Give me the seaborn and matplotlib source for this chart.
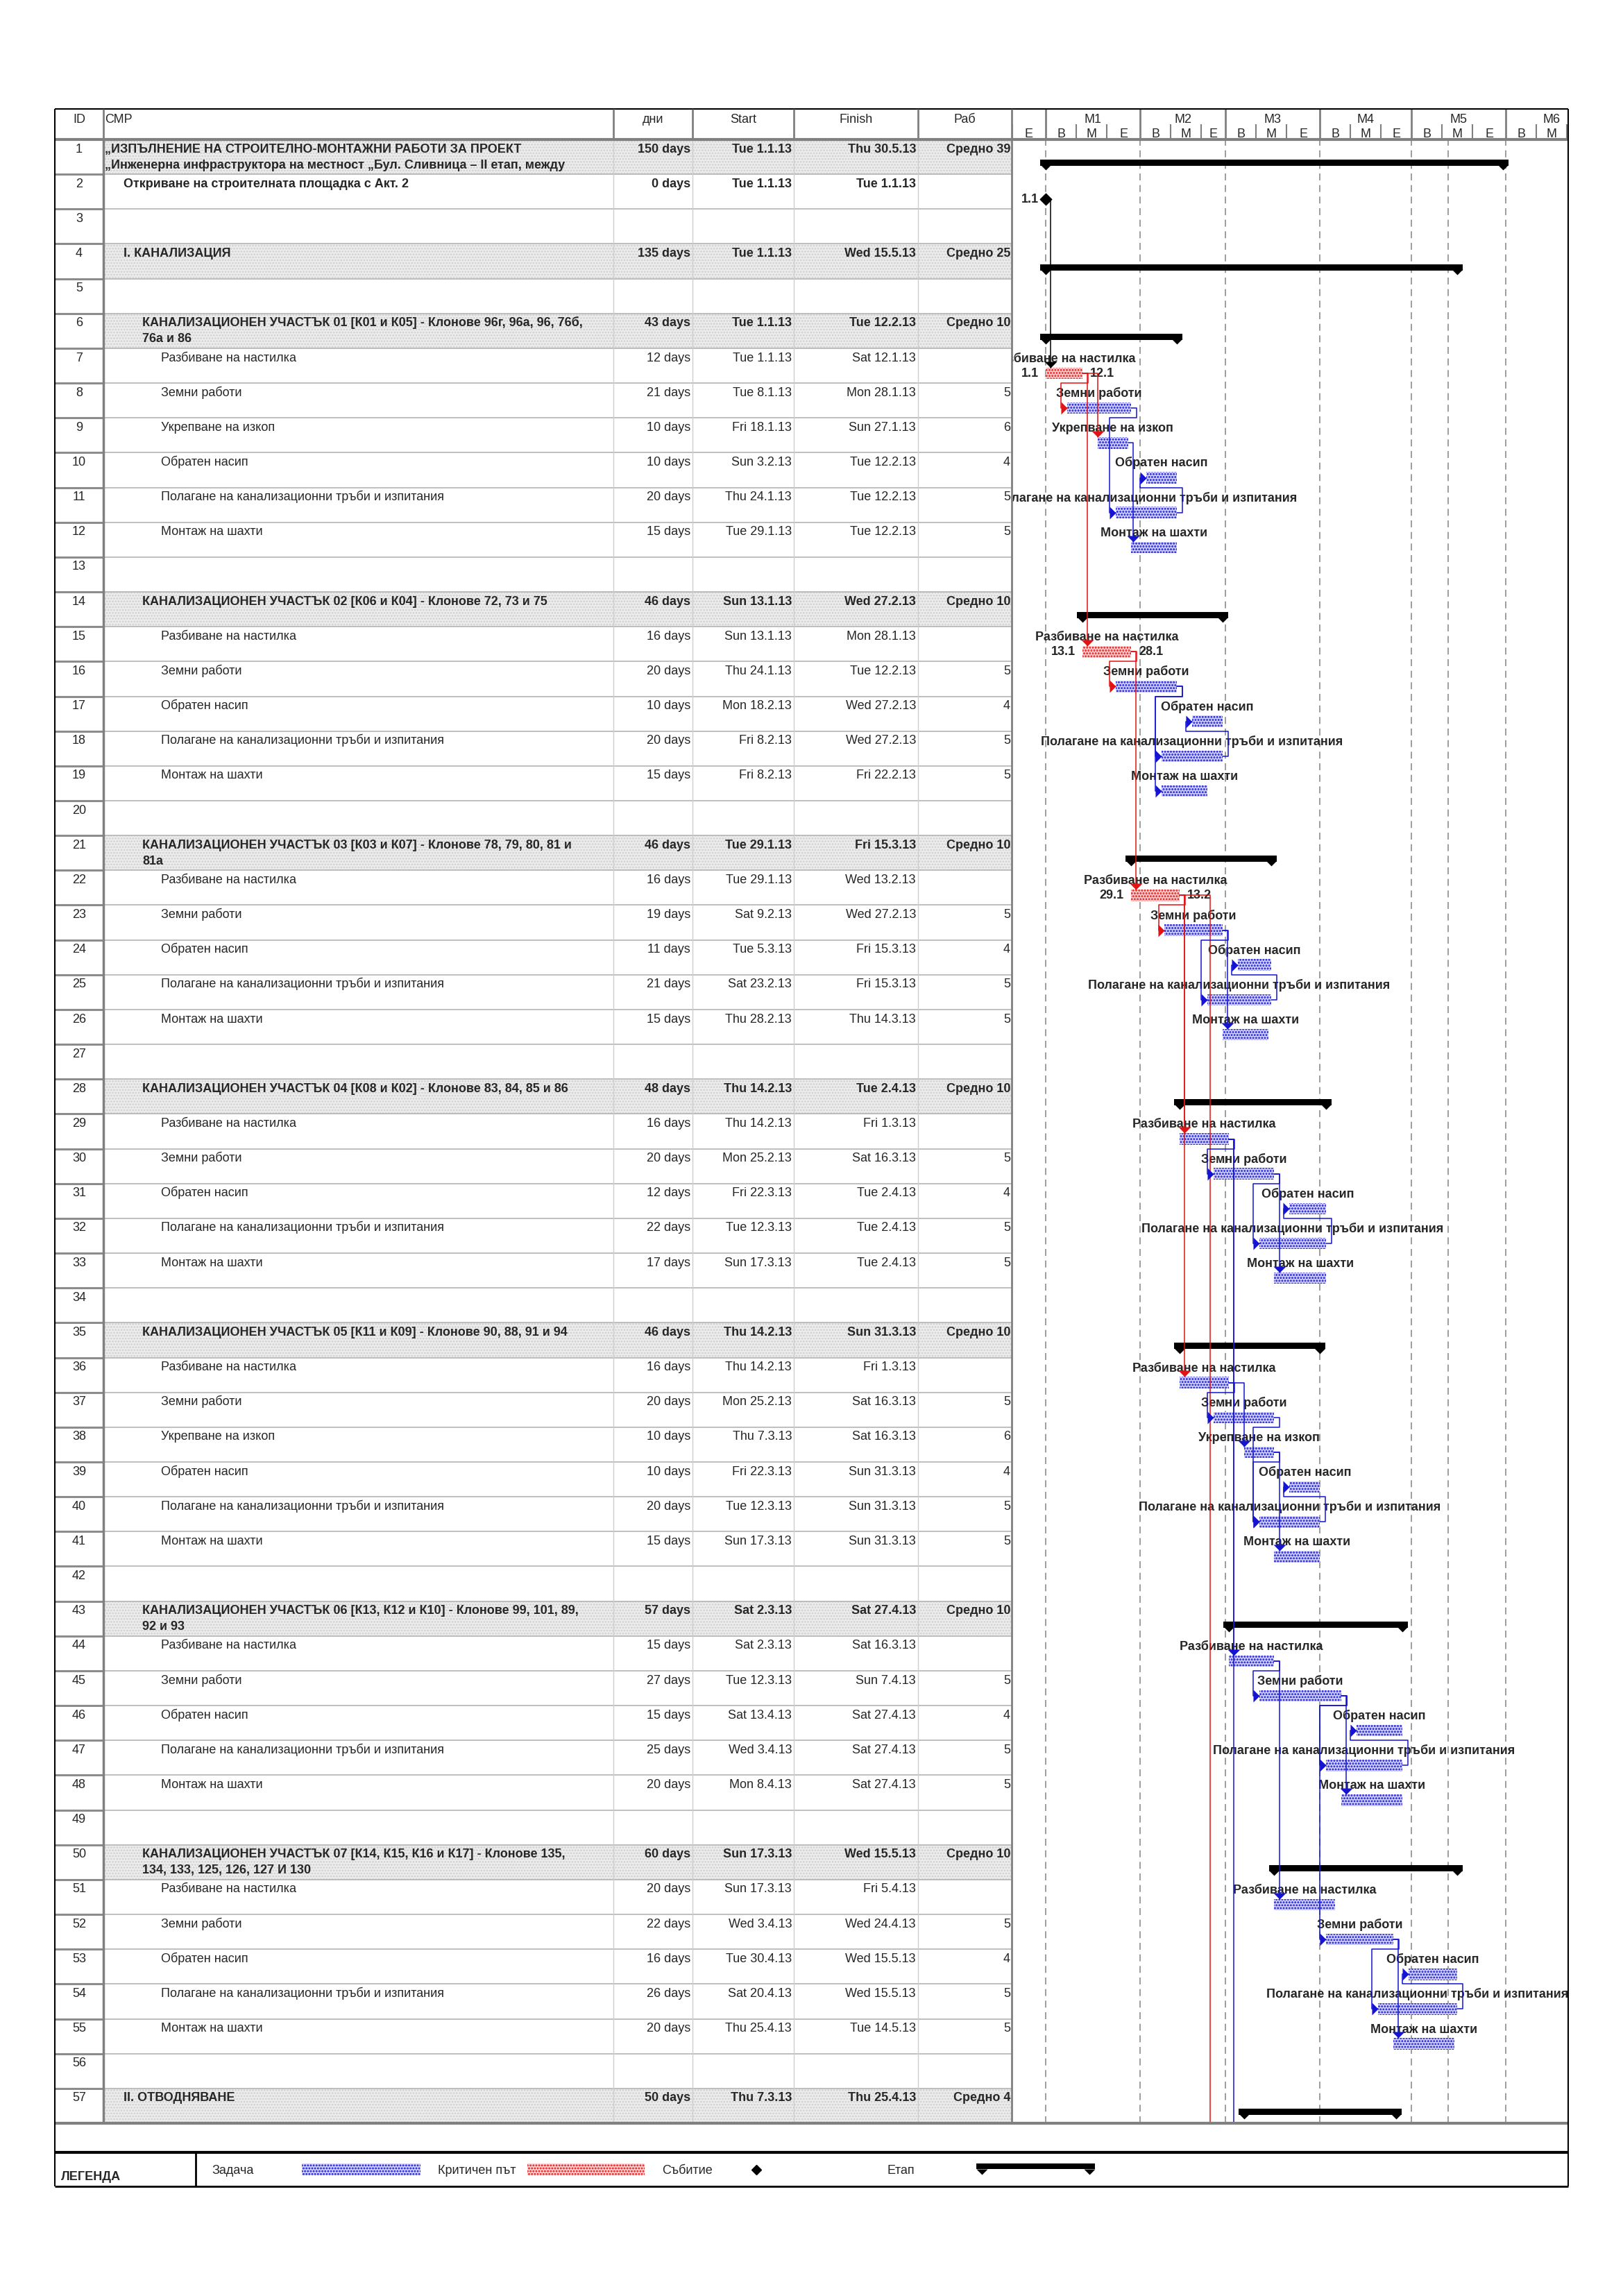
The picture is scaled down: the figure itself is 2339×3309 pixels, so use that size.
import numpy as np
import pandas as pd
import seaborn as sns
import matplotlib.pyplot as plt
import matplotlib.dates as mdates
from matplotlib.patches import Rectangle

# ---- schedule data ----
R = "Разбиване на настилка"
Z = "Земни работи"
U = "Укрепване на изкоп"
O = "Обратен насип"
P = "Полагане на канализационни тръби и изпитания"
M = "Монтаж на шахти"

names = [
    "„ИЗПЪЛНЕНИЕ НА СТРОИТЕЛНО-МОНТАЖНИ РАБОТИ ЗА ПРОЕКТ\n„Инженерна инфраструктора на местност „Бул. Сливница – II етап, между",
    "Откриване на строителната площадка с Акт. 2",
    "",
    "I. КАНАЛИЗАЦИЯ",
    "",
    "КАНАЛИЗАЦИОНЕН УЧАСТЪК 01 [К01 и К05] - Клонове 96г, 96а, 96, 76б,\n76а и 86",
    R, Z, U, O, P, M, "",
    "КАНАЛИЗАЦИОНЕН УЧАСТЪК 02 [К06 и К04] - Клонове 72, 73 и 75",
    R, Z, O, P, M, "",
    "КАНАЛИЗАЦИОНЕН УЧАСТЪК 03 [К03 и К07] - Клонове 78, 79, 80, 81 и\n81а",
    R, Z, O, P, M, "",
    "КАНАЛИЗАЦИОНЕН УЧАСТЪК 04 [К08 и К02] - Клонове 83, 84, 85 и 86",
    R, Z, O, P, M, "",
    "КАНАЛИЗАЦИОНЕН УЧАСТЪК 05 [К11 и К09] - Клонове 90, 88, 91 и 94",
    R, Z, U, O, P, M, "",
    "КАНАЛИЗАЦИОНЕН УЧАСТЪК 06 [К13, К12 и К10] - Клонове 99, 101, 89,\n92 и 93",
    R, Z, O, P, M, "",
    "КАНАЛИЗАЦИОНЕН УЧАСТЪК 07 [К14, К15, К16 и К17] - Клонове 135,\n134, 133, 125, 126, 127 И 130",
    R, Z, O, P, M, "",
    "II. ОТВОДНЯВАНЕ",
]
levels = [0, 1, 0, 1, 0,
          2, 3, 3, 3, 3, 3, 3, 0,
          2, 3, 3, 3, 3, 3, 0,
          2, 3, 3, 3, 3, 3, 0,
          2, 3, 3, 3, 3, 3, 0,
          2, 3, 3, 3, 3, 3, 3, 0,
          2, 3, 3, 3, 3, 3, 0,
          2, 3, 3, 3, 3, 3, 0,
          1]
durations = [150, 0, None, 135, None,
             43, 12, 21, 10, 10, 20, 15, None,
             46, 16, 20, 10, 20, 15, None,
             46, 16, 19, 11, 21, 15, None,
             48, 16, 20, 12, 22, 17, None,
             46, 16, 20, 10, 10, 20, 15, None,
             57, 15, 27, 15, 25, 20, None,
             60, 20, 22, 16, 26, 20, None,
             50]
starts = ["1.1.13", "1.1.13", None, "1.1.13", None,
          "1.1.13", "1.1.13", "8.1.13", "18.1.13", "3.2.13", "24.1.13", "29.1.13", None,
          "13.1.13", "13.1.13", "24.1.13", "18.2.13", "8.2.13", "8.2.13", None,
          "29.1.13", "29.1.13", "9.2.13", "5.3.13", "23.2.13", "28.2.13", None,
          "14.2.13", "14.2.13", "25.2.13", "22.3.13", "12.3.13", "17.3.13", None,
          "14.2.13", "14.2.13", "25.2.13", "7.3.13", "22.3.13", "12.3.13", "17.3.13", None,
          "2.3.13", "2.3.13", "12.3.13", "13.4.13", "3.4.13", "8.4.13", None,
          "17.3.13", "17.3.13", "3.4.13", "30.4.13", "20.4.13", "25.4.13", None,
          "7.3.13"]
finishes = ["30.5.13", "1.1.13", None, "15.5.13", None,
            "12.2.13", "12.1.13", "28.1.13", "27.1.13", "12.2.13", "12.2.13", "12.2.13", None,
            "27.2.13", "28.1.13", "12.2.13", "27.2.13", "27.2.13", "22.2.13", None,
            "15.3.13", "13.2.13", "27.2.13", "15.3.13", "15.3.13", "14.3.13", None,
            "2.4.13", "1.3.13", "16.3.13", "2.4.13", "2.4.13", "2.4.13", None,
            "31.3.13", "1.3.13", "16.3.13", "16.3.13", "31.3.13", "31.3.13", "31.3.13", None,
            "27.4.13", "16.3.13", "7.4.13", "27.4.13", "27.4.13", "27.4.13", None,
            "15.5.13", "5.4.13", "24.4.13", "15.5.13", "15.5.13", "14.5.13", None,
            "25.4.13"]
work = ["Средно 39", "", "", "Средно 25", "",
        "Средно 10", "", "5", "6", "4", "5", "5", "",
        "Средно 10", "", "5", "4", "5", "5", "",
        "Средно 10", "", "5", "4", "5", "5", "",
        "Средно 10", "", "5", "4", "5", "5", "",
        "Средно 10", "", "5", "6", "4", "5", "5", "",
        "Средно 10", "", "5", "4", "5", "5", "",
        "Средно 10", "", "5", "4", "5", "5", "",
        "Средно 4"]
critical_rows = [7, 15, 22]

# links (predecessor row, successor row); rows 58/59 sit below the printed part
links = [(2, 7), (7, 8), (7, 9), (7, 15), (8, 11), (9, 12), (11, 10),
         (15, 16), (15, 22), (16, 18), (16, 19), (18, 17),
         (22, 23), (22, 29), (22, 36), (22, 58), (23, 25), (23, 26), (25, 24),
         (29, 30), (29, 44), (29, 59), (30, 32), (30, 33), (32, 31),
         (36, 37), (36, 38), (37, 40), (38, 40), (38, 41), (40, 39),
         (44, 45), (44, 51), (45, 47), (45, 48), (45, 52), (47, 46),
         (52, 54), (52, 55), (54, 53)]
critical_links = [(7, 8), (7, 9), (7, 15), (15, 16), (15, 22),
                  (22, 23), (22, 29), (22, 36), (22, 58)]
hidden_rows = [58, 59]
hidden_starts = ["24.2.13", "2.3.13"]

month_labels = ["", "M1", "M2", "M3", "M4", "M5", "M6"]
month_starts = ["1.12.12", "1.1.13", "1.2.13", "1.3.13", "1.4.13", "1.5.13", "1.6.13"]
part_labels = ["B", "M", "E"]
status_date = "13.5.13"
view = ("2012-12-20 20:00", "2013-06-21 10:00")

legend_labels = ["Задача", "Критичен път", "Събитие", "Етап"]

# ---- style ----
sns.set_theme(style="white")
plt.rcParams["font.family"] = ["Liberation Sans", "DejaVu Sans"]
plt.rcParams["hatch.linewidth"] = 1.4
FS = 13
BLUE, RED = "#1414d2", "#e01414"
GRID = "#8c8c8c"
LINE_STEP = 0.46   # second text line inside a row

W, H = 2339, 3309
fig = plt.figure(figsize=(W / 100, H / 100), dpi=100)
fig.patch.set_facecolor("white")


def axes_at(x0, y0, x1, y1, z=1):
    ax = fig.add_axes([x0 / W, 1 - y1 / H, (x1 - x0) / W, (y1 - y0) / H], zorder=z)
    ax.set_axis_off()
    return ax


def to_date(s):
    return pd.to_datetime(s, format="%d.%m.%y")


df = pd.DataFrame({"row": range(1, 58), "name": names, "level": levels,
                   "dur": durations, "start": starts, "finish": finishes, "work": work})
df["summary"] = df["work"].str.startswith("Средно")
df["milestone"] = df["dur"] == 0
df["task"] = ~df["summary"] & ~df["milestone"] & df["name"].ne("")
df["s"] = to_date(df["start"])
df["f"] = to_date(df["finish"])
df["e"] = df["f"] + pd.Timedelta(days=1)
df.loc[df["milestone"], "e"] = df.loc[df["milestone"], "s"]
df["sn"] = mdates.date2num(df["s"])
df["en"] = mdates.date2num(df["e"])
df["crit"] = df["row"].isin(critical_rows)
df = df.set_index("row", drop=False)


def fmt_day(t):
    return f"{t:%a} {t.day}.{t.month}.{t:%y}"


# ---- table ----
L, RGT, TOP, HB, TB, LT, LB = 79, 2260, 157, 201, 3060, 3102, 3151
cols = [79, 149, 884, 998, 1144, 1323, 1458]
name_x = [151, 178, 205, 232]

ax_t = axes_at(cols[0], HB, cols[-1], TB)
ax_t.set_xlim(cols[0], cols[-1])
ax_t.set_ylim(57, 0)

summ = df[df["summary"]]
ax_t.barh(summ["row"] - 0.5, cols[-1] - cols[1], left=cols[1], height=1,
          color="#eeeeee", hatch="....", edgecolor="#d0d0d0", lw=0, zorder=0)
bounds = np.arange(1, 57)
ax_t.hlines(bounds, cols[0], cols[1], color="#8c8c8c", lw=2.2, zorder=2)
ax_t.hlines(bounds, cols[1], cols[-1], color="#b4b4b4", lw=1.2, zorder=2)
ax_t.vlines(cols[2:6], 0, 57, color="#cdcdcd", lw=1, zorder=2)
ax_t.vlines(cols[1], 0, 57, color="#808080", lw=2.5, zorder=2)

for r, row in df.iterrows():
    y = r - 1 + 0.37
    ax_t.text(114, y, str(r), ha="center", va="baseline", fontsize=FS)
    if row["name"] == "":
        continue
    wt = "bold" if (row["summary"] or row["milestone"]) else "normal"
    for i, line in enumerate(row["name"].split("\n")):
        ax_t.text(name_x[row["level"]], y + i * LINE_STEP, line, ha="left", va="baseline",
                  fontsize=FS, fontweight=wt)
    ax_t.text(995, y, f"{int(row['dur'])} days", ha="right", va="baseline", fontsize=FS, fontweight=wt)
    ax_t.text(1141, y, fmt_day(row["s"]), ha="right", va="baseline", fontsize=FS, fontweight=wt)
    ax_t.text(1320, y, fmt_day(row["f"]), ha="right", va="baseline", fontsize=FS, fontweight=wt)
    ax_t.text(1456, y, row["work"], ha="right", va="baseline", fontsize=FS, fontweight=wt,
              clip_on=True)

# ---- gantt ----
x_view = mdates.date2num(pd.to_datetime(list(view)))
ax_g = axes_at(cols[-1], HB, RGT, TB, z=2)

month_x = mdates.date2num(to_date(pd.Series(month_starts)))
for mx in list(month_x[1:]) + [mdates.date2num(to_date(status_date))]:
    ax_g.axvline(mx, color=GRID, lw=1.2, ls=(0, (6, 4)), zorder=0)

BAR_Y, BAR_H = 0.72, 0.33
tasks = df[df["task"]]
for crit, face, hatch_col in [(False, "#d2d2fb", BLUE), (True, "#fbd2d2", RED)]:
    sub = tasks[tasks["crit"] == crit]
    ax_g.barh(sub["row"] - 1 + BAR_Y, sub["en"] - sub["sn"], left=sub["sn"], height=BAR_H,
              color=face, hatch="....", edgecolor=hatch_col, lw=0, zorder=3)

for r, row in tasks.iterrows():
    xc = (row["sn"] + row["en"]) / 2
    ax_g.text(xc, r - 1 + 0.40, row["name"], ha="center", va="baseline", fontsize=FS,
              fontweight="bold", clip_on=True, zorder=2)
    if row["crit"]:
        ax_g.text(row["sn"] - 2.3, r - 1 + BAR_Y, f"{row['s'].day}.{row['s'].month}",
                  ha="right", va="center", fontsize=FS, fontweight="bold", clip_on=True)
        ax_g.text(row["en"] + 2.5, r - 1 + BAR_Y, f"{row['f'].day}.{row['f'].month}",
                  ha="left", va="center", fontsize=FS, fontweight="bold", clip_on=True)

DOWN = [(-1, 1), (1, 1), (0, 0)]
RIGHT = [(-1, 1), (-1, -1), (0, 0)]

summ = df[df["summary"]]
ax_g.barh(summ["row"] - 1 + 0.67, summ["en"] - summ["sn"] + 3.6, left=summ["sn"] - 1.8,
          height=0.18, color="black", lw=0, zorder=3)
for col in ["sn", "en"]:
    ax_g.plot(summ[col], summ["row"] - 1 + 0.88, ls="none", marker=DOWN, ms=11.5,
              mew=0, color="black", zorder=3)

ms_rows = df[df["milestone"]]
sns.scatterplot(x=ms_rows["sn"], y=ms_rows["row"] - 1 + BAR_Y, marker="D", s=75,
                color="black", edgecolor="black", ax=ax_g, zorder=5, legend=False)
for r, row in ms_rows.iterrows():
    ax_g.text(row["sn"] - 2.3, r - 1 + BAR_Y, f"{row['s'].day}.{row['s'].month}",
              ha="right", va="center", fontsize=FS, fontweight="bold", clip_on=True)

start_of = dict(zip(df["row"], df["sn"]))
end_of = dict(zip(df["row"], df["en"]))
start_of.update(zip(hidden_rows, mdates.date2num(to_date(pd.Series(hidden_starts)))))
ms_set = set(ms_rows["row"])
for a, b in links:
    x0, y0 = end_of[a], a - 1 + BAR_Y
    x1, y1 = start_of[b], b - 1 + BAR_Y
    colr = "black" if a in ms_set else (RED if (a, b) in critical_links else BLUE)
    if b > a and x1 >= x0:
        xv = max(x1, x0 + 1.6)
        xs, ys = [x0, xv, xv], [y0, y0, y1 - BAR_H / 2]
        mk, hx, hy = DOWN, xv, y1 - BAR_H / 2
    else:
        yg = a if b > a else a - 1
        xs = [x0, x0 + 1.8, x0 + 1.8, x1 - 2.0, x1 - 2.0, x1]
        ys = [y0, y0, yg, yg, y1, y1]
        mk, hx, hy = RIGHT, x1, y1
    ax_g.plot(xs, ys, color=colr, lw=1.1, zorder=4)
    ax_g.plot([hx], [hy], ls="none", marker=mk, ms=13, mew=0, color=colr, zorder=5)

ax_g.set_xlim(*x_view)
ax_g.set_ylim(57, 0)
ax_g.set_axis_off()

# ---- gantt timescale header ----
ax_gh = axes_at(cols[-1], TOP, RGT, HB, z=2)
ax_gh.set_xlim(*x_view)
ax_gh.set_ylim(1, 0)
m_dates = to_date(pd.Series(month_starts))
for i, md in enumerate(m_dates):
    nxt = md + pd.offsets.MonthBegin(1)
    mx0, mx1 = mdates.date2num(md), mdates.date2num(nxt)
    ax_gh.axvline(mx0, color="#808080", lw=2)
    ax_gh.text((mx0 + mx1) / 2, 0.45, month_labels[i], ha="center", va="baseline",
               fontsize=FS, clip_on=True)
    edges = [mx0, mx0 + 10, mx0 + 20, mx1]
    ax_gh.vlines(edges[1:3], 0.5, 1, color="#808080", lw=1.5)
    for j, lab in enumerate(part_labels):
        ax_gh.text((edges[j] + edges[j + 1]) / 2, 0.93, lab, ha="center", va="baseline",
                   fontsize=FS, clip_on=True)

# ---- frame, header, legend ----
ax_bg = axes_at(0, 0, W, H, z=10)
ax_bg.set_xlim(0, W)
ax_bg.set_ylim(H, 0)
ax_bg.hlines(TOP, L, RGT, color="black", lw=1.5)
ax_bg.hlines([HB, TB], L, RGT, color="#808080", lw=3)
ax_bg.hlines(LT, L, RGT, color="black", lw=3)
ax_bg.hlines(LB, L, RGT, color="black", lw=2)
ax_bg.vlines([L, RGT], TOP, LB, color="black", lw=1.5)
ax_bg.vlines(cols[1:6], TOP, HB, color="#808080", lw=2)
ax_bg.vlines(cols[-1], TOP, TB, color="#808080", lw=2)
ax_bg.vlines(282, LT, LB, color="black", lw=2)

heads = ["ID", "СМР", "дни", "Start", "Finish", "Раб"]
for i, h in enumerate(heads):
    if h == "СМР":
        ax_bg.text(cols[1] + 2, 177, h, ha="left", va="baseline", fontsize=FS)
    else:
        ax_bg.text((cols[i] + cols[i + 1]) / 2, 177, h, ha="center", va="baseline", fontsize=FS)

ax_bg.text(88, 3142, "ЛЕГЕНДА", ha="left", va="baseline", fontsize=FS, fontweight="bold")
lx = [305, 631, 954, 1279]
for x, lab in zip(lx, legend_labels):
    ax_bg.text(x, 3133, lab, ha="left", va="baseline", fontsize=FS)
ax_bg.add_patch(Rectangle((435, 3118), 171, 17, facecolor="#d2d2fb", hatch="....",
                          edgecolor=BLUE, lw=0))
ax_bg.add_patch(Rectangle((760, 3118), 169, 17, facecolor="#fbd2d2", hatch="....",
                          edgecolor=RED, lw=0))
ax_bg.plot([1090], [3127], ls="none", marker="D", ms=7.5, color="black")
ax_bg.add_patch(Rectangle((1407, 3118), 171, 8, facecolor="black", lw=0))
ax_bg.plot([1415, 1570], [3134, 3134], ls="none", marker=DOWN, ms=11.5, mew=0, color="black")

fig.savefig("out.png", dpi=100, facecolor="white")
